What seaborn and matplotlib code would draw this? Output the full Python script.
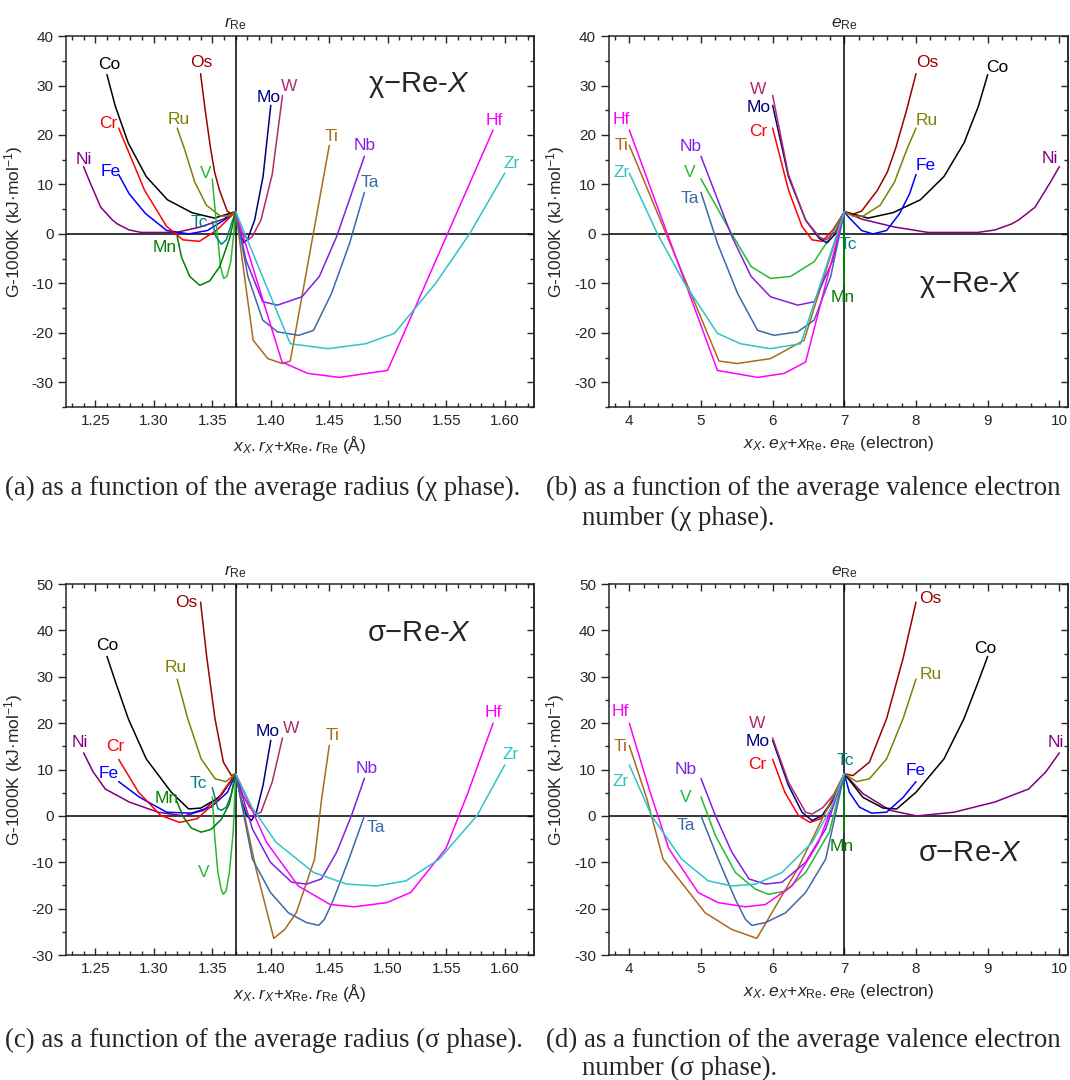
import matplotlib
matplotlib.use("Agg")
import matplotlib.pyplot as plt
import matplotlib.transforms as mtransforms
from matplotlib.ticker import MultipleLocator
import pandas as pd
import seaborn as sns

# Re-X systems: pure element data
elements = ["Ni", "Co", "Fe", "Cr", "Os", "Ru", "V", "Tc", "Mn", "Mo", "W", "Ti", "Nb", "Ta", "Hf", "Zr"]
radii = [1.24, 1.26, 1.27, 1.27, 1.34, 1.32, 1.35, 1.35, 1.32, 1.40, 1.41, 1.45, 1.48, 1.48, 1.59, 1.60]
valence = [10, 9, 8, 6, 8, 8, 5, 7, 7, 6, 6, 4, 5, 5, 4, 4]
R_RE = 1.37
E_RE = 7

# chi phase: fraction of X, G-1000K (kJ/mol)
ni_chi_c = [0, 0.08, 0.233, 0.39, 0.51, 0.62, 0.70, 0.777, 0.81, 0.887, 0.963, 1]
ni_chi_g = [4.5, 3.0, 1.4, 0.3, 0.3, 0.3, 0.8, 2.0, 2.8, 5.4, 10.8, 13.6]
co_chi_c = [0, 0.165, 0.34, 0.53, 0.695, 0.835, 0.935, 1]
co_chi_g = [4.5, 3.2, 4.3, 6.9, 11.6, 18.4, 25.8, 32.2]
fe_chi_c = [0, 0.06, 0.24, 0.40, 0.59, 0.77, 0.91, 1]
fe_chi_g = [4.5, 3.4, 0.7, 0.0, 0.7, 4.1, 8.1, 12.0]
cr_chi_c = [0, 0.16, 0.31, 0.45, 0.59, 0.78, 1]
cr_chi_g = [4.5, 0.8, -1.5, -1.2, 1.5, 8.9, 21.4]
os_chi_c = [0, 0.12, 0.24, 0.46, 0.6, 0.72, 0.87, 1]
os_chi_g = [4.5, 4.0, 4.6, 8.8, 12.5, 17.5, 25.1, 32.4]
ru_chi_c = [0, 0.12, 0.26, 0.5, 0.7, 0.87, 1]
ru_chi_g = [4.5, 3.6, 3.6, 5.8, 10.5, 17.0, 21.4]
v_chi_c = [0, 0.095, 0.21, 0.375, 0.515, 0.65, 0.785, 1]
v_chi_g = [4.5, -0.5, -5.6, -8.6, -9.0, -6.6, 0.0, 11.1]
tc_chi_c = [0, 0.2, 0.4, 0.61, 0.85, 1]
tc_chi_g = [4.5, 1.8, -1.2, -2.1, -0.5, 2.5]
mn_chi_c = [0, 0.102, 0.272, 0.444, 0.614, 0.784, 0.926, 1]
mn_chi_g = [4.5, -0.8, -6.6, -9.5, -10.4, -8.6, -4.7, -0.5]
mo_chi_c = [0, 0.12, 0.24, 0.35, 0.54, 0.78, 1]
mo_chi_g = [4.5, 0.1, -1.8, -0.9, 2.8, 11.6, 26.0]
w_chi_c = [0, 0.12, 0.26, 0.35, 0.54, 0.78, 1]
w_chi_g = [4.5, 0.5, -1.2, -0.6, 2.8, 12.0, 28.0]
ti_chi_c = [0, 0.187, 0.343, 0.497, 0.583, 1]
ti_chi_g = [4.5, -21.5, -25.2, -26.2, -25.7, 17.9]
nb_chi_c = [0, 0.08, 0.21, 0.325, 0.515, 0.65, 0.785, 1]
nb_chi_g = [4.5, -5.3, -13.7, -14.4, -12.7, -8.6, -0.5, 15.7]
ta_chi_c = [0, 0.095, 0.21, 0.325, 0.49, 0.605, 0.745, 0.885, 1]
ta_chi_g = [4.5, -8.6, -17.4, -19.8, -20.5, -19.5, -12.0, -1.9, 8.4]
hf_chi_c = [0, 0.18, 0.28, 0.403, 0.59, 1]
hf_chi_g = [4.5, -25.9, -28.2, -29.0, -27.6, 21.0]
zr_chi_c = [0, 0.203, 0.343, 0.483, 0.59, 0.743, 0.87, 1]
zr_chi_g = [4.5, -22.2, -23.2, -22.2, -20.1, -10.0, 0.1, 12.3]

# sigma phase: fraction of X, G-1000K (kJ/mol)
ni_sig_c = [0, 0.087, 0.213, 0.337, 0.51, 0.7, 0.857, 0.937, 1]
ni_sig_g = [9.1, 4.8, 1.2, 0.0, 0.8, 3.0, 5.8, 9.5, 13.6]
co_sig_c = [0, 0.13, 0.27, 0.365, 0.5, 0.695, 0.835, 0.935, 1]
co_sig_g = [9.1, 4.0, 1.7, 1.5, 5.1, 12.3, 21.0, 29.0, 34.4]
fe_sig_c = [0, 0.07, 0.21, 0.38, 0.59, 0.82, 1]
fe_sig_g = [9.1, 5.1, 1.9, 0.6, 0.8, 4.0, 7.4]
cr_sig_c = [0, 0.17, 0.33, 0.48, 0.64, 0.83, 1]
cr_sig_g = [9.1, 3.0, -0.6, -1.4, 0.1, 5.1, 12.2]
os_sig_c = [0, 0.12, 0.35, 0.59, 0.82, 1]
os_sig_g = [9.1, 8.7, 11.6, 21.0, 34.0, 46.1]
ru_sig_c = [0, 0.17, 0.35, 0.59, 0.82, 1]
ru_sig_g = [9.1, 7.4, 8.0, 12.3, 21.0, 29.5]
v_sig_c = [0, 0.105, 0.27, 0.41, 0.53, 0.62, 0.76, 0.9, 1]
v_sig_g = [9.1, -3.5, -12.2, -16.2, -16.9, -15.8, -12.2, -4.2, 4.1]
tc_sig_c = [0, 0.185, 0.4, 0.615, 0.76, 1]
tc_sig_g = [9.1, 4.7, 1.9, 1.2, 1.6, 6.1]
mn_sig_c = [0, 0.108, 0.25, 0.42, 0.59, 0.76, 0.9, 1]
mn_sig_g = [9.1, 2.6, -0.8, -2.9, -3.5, -2.6, -0.1, 3.0]
mo_sig_c = [0, 0.15, 0.31, 0.45, 0.59, 0.78, 1]
mo_sig_g = [9.1, 3.8, 0.1, -1.0, 0.8, 6.6, 16.3]
w_sig_c = [0, 0.15, 0.3, 0.45, 0.54, 0.78, 1]
w_sig_g = [9.1, 4.6, 1.8, 0.4, 0.8, 7.3, 16.8]
ti_sig_c = [0, 0.217, 0.407, 0.523, 0.647, 0.843, 0.917, 1]
ti_sig_g = [9.1, -11.4, -26.4, -24.5, -20.9, -9.3, 3.5, 15.2]
nb_sig_c = [0, 0.13, 0.27, 0.435, 0.55, 0.665, 0.785, 0.9, 1]
nb_sig_g = [9.1, -2.8, -10.0, -14.3, -14.7, -13.6, -7.8, 0.1, 8.1]
ta_sig_c = [0, 0.13, 0.27, 0.41, 0.55, 0.645, 0.69, 0.76, 0.88, 1]
ta_sig_g = [9.1, -9.3, -16.5, -20.9, -23.0, -23.6, -22.3, -18.0, -9.3, 0.0]
hf_sig_c = [0, 0.12, 0.243, 0.367, 0.46, 0.587, 0.68, 0.817, 0.903, 1]
hf_sig_g = [9.1, -5.7, -15.1, -19.1, -19.6, -18.7, -16.5, -7.0, 5.1, 20.0]
zr_sig_c = [0, 0.063, 0.15, 0.29, 0.413, 0.523, 0.633, 0.757, 0.897, 1]
zr_sig_g = [9.1, 1.6, -5.7, -12.2, -14.7, -15.1, -14.0, -9.3, 0.1, 11.0]

chi_curves = {
    "Ni": (ni_chi_c, ni_chi_g), "Co": (co_chi_c, co_chi_g), "Fe": (fe_chi_c, fe_chi_g),
    "Cr": (cr_chi_c, cr_chi_g), "Os": (os_chi_c, os_chi_g), "Ru": (ru_chi_c, ru_chi_g),
    "V": (v_chi_c, v_chi_g), "Tc": (tc_chi_c, tc_chi_g), "Mn": (mn_chi_c, mn_chi_g),
    "Mo": (mo_chi_c, mo_chi_g), "W": (w_chi_c, w_chi_g), "Ti": (ti_chi_c, ti_chi_g),
    "Nb": (nb_chi_c, nb_chi_g), "Ta": (ta_chi_c, ta_chi_g), "Hf": (hf_chi_c, hf_chi_g),
    "Zr": (zr_chi_c, zr_chi_g),
}
sigma_curves = {
    "Ni": (ni_sig_c, ni_sig_g), "Co": (co_sig_c, co_sig_g), "Fe": (fe_sig_c, fe_sig_g),
    "Cr": (cr_sig_c, cr_sig_g), "Os": (os_sig_c, os_sig_g), "Ru": (ru_sig_c, ru_sig_g),
    "V": (v_sig_c, v_sig_g), "Tc": (tc_sig_c, tc_sig_g), "Mn": (mn_sig_c, mn_sig_g),
    "Mo": (mo_sig_c, mo_sig_g), "W": (w_sig_c, w_sig_g), "Ti": (ti_sig_c, ti_sig_g),
    "Nb": (nb_sig_c, nb_sig_g), "Ta": (ta_sig_c, ta_sig_g), "Hf": (hf_sig_c, hf_sig_g),
    "Zr": (zr_sig_c, zr_sig_g),
}

colors = {
    "Ni": "#800080", "Co": "#000000", "Fe": "#0000ff", "Cr": "#ff0000", "Os": "#990000",
    "Ru": "#808000", "V": "#22bb33", "Tc": "#008080", "Mn": "#008000", "Mo": "#000080",
    "W": "#b02a6e", "Ti": "#a86a1c", "Nb": "#8020e0", "Ta": "#3a6aa8", "Hf": "#ff00ff",
    "Zr": "#2ec4c4",
}

# where the element names sit in each panel (data coords)
labels_a = {"Co": (1.262, 34.3), "Os": (1.341, 34.7), "Cr": (1.261, 22.4), "Ru": (1.321, 23.2),
            "Ni": (1.240, 15.1), "Fe": (1.263, 12.7), "V": (1.344, 12.3), "Tc": (1.339, 2.4),
            "Mn": (1.309, -2.8), "Mo": (1.398, 27.6), "W": (1.416, 29.9), "Ti": (1.452, 19.7),
            "Nb": (1.480, 17.9), "Ta": (1.485, 10.3), "Hf": (1.591, 23.0), "Zr": (1.606, 14.2)}
labels_b = {"W": (5.80, 29.1), "Mo": (5.80, 25.5), "Cr": (5.80, 20.7), "Hf": (3.89, 23.2),
            "Ti": (3.89, 17.8), "Zr": (3.89, 12.5), "Nb": (4.85, 17.6), "V": (4.85, 12.5),
            "Ta": (4.85, 7.1), "Os": (8.15, 34.7), "Co": (9.14, 33.6), "Ru": (8.15, 23.0),
            "Fe": (8.13, 13.9), "Ni": (9.87, 15.2), "Tc": (7.06, -2.2), "Mn": (6.98, -12.8)}
labels_c = {"Os": (1.328, 46.0), "Co": (1.260, 36.7), "Ru": (1.319, 32.0), "Ni": (1.237, 15.8),
            "Cr": (1.267, 15.0), "Fe": (1.2615, 9.1), "Tc": (1.338, 7.0), "Mn": (1.311, 3.7),
            "V": (1.343, -12.1), "Mo": (1.397, 18.3), "W": (1.417, 18.8), "Ti": (1.4526, 17.4),
            "Nb": (1.4823, 10.2), "Ta": (1.4898, -2.5), "Hf": (1.590, 22.2), "Zr": (1.605, 13.3)}
labels_d = {"Os": (8.2, 46.9), "Co": (8.97, 36.0), "Ru": (8.2, 30.4), "Ni": (9.95, 15.8),
            "Fe": (7.99, 9.8), "Tc": (7.02, 12.0), "Mn": (6.97, -6.6), "W": (5.79, 19.9),
            "Mo": (5.79, 16.1), "Cr": (5.79, 11.0), "Hf": (3.88, 22.6), "Ti": (3.88, 14.9),
            "Zr": (3.88, 7.4), "Nb": (4.79, 10.0), "V": (4.79, 4.0), "Ta": (4.79, -2.1)}

# long table, x positions from composition-weighted radius / electron count
rows = []
for i, el in enumerate(elements):
    for phase, curves in (("chi", chi_curves), ("sigma", sigma_curves)):
        fracs, gvals = curves[el]
        for f, g in zip(fracs, gvals):
            rows.append({"element": el, "phase": phase, "G": g,
                         "radius": f * radii[i] + (1 - f) * R_RE,
                         "electrons": f * valence[i] + (1 - f) * E_RE})
df = pd.DataFrame(rows)

sns.set_style("ticks")
plt.rcParams["font.family"] = ["Liberation Sans", "DejaVu Sans"]
plt.rcParams["mathtext.fontset"] = "custom"
plt.rcParams["mathtext.rm"] = "Liberation Sans"
plt.rcParams["mathtext.it"] = "Liberation Sans:italic"
plt.rcParams["mathtext.bf"] = "Liberation Sans:bold"
plt.rcParams["axes.unicode_minus"] = False  # origin-style hyphen minus on ticks

fig = plt.figure(figsize=(10.7, 10.8), dpi=100)


def draw_panel(rect, phase, xcol, xlim, ylim, xmaj, xmin, labels, top_label, xlabel, phase_text, phase_pos, ref_x):
    ax = fig.add_axes(rect)
    sub = df[df["phase"] == phase]
    ax.axhline(0, color="black", lw=1.1, zorder=1)
    ax.axvline(ref_x, color="black", lw=1.1, zorder=1)
    sns.lineplot(data=sub, x=xcol, y="G", hue="element", hue_order=elements, palette=colors,
                 estimator=None, sort=False, legend=False, lw=1.1, ax=ax, zorder=2)
    for el, (lx, ly) in labels.items():
        ax.text(lx, ly, el, color=colors[el], fontsize=12.5, ha="center", va="center")
    ax.text(phase_pos[0], phase_pos[1], phase_text, fontsize=21, ha="center", va="center")

    ax.set_xlim(*xlim)
    ax.set_ylim(*ylim)
    ax.xaxis.set_major_locator(MultipleLocator(xmaj))
    ax.xaxis.set_minor_locator(MultipleLocator(xmin))
    ax.yaxis.set_major_locator(MultipleLocator(10))
    ax.yaxis.set_minor_locator(MultipleLocator(5))
    ax.tick_params(axis="x", which="both", direction="in", top=True, labelsize=11, pad=5)
    ax.tick_params(axis="x", which="major", length=5, width=1)
    ax.tick_params(axis="x", which="minor", length=2.8, width=1)
    ax.tick_params(axis="y", which="both", direction="out", labelsize=11)
    ax.tick_params(axis="y", which="major", length=5.5, width=1)
    ax.tick_params(axis="y", which="minor", length=3, width=1)
    if xmaj < 1:
        ax.xaxis.set_major_formatter(plt.FormatStrFormatter("%.2f"))
    # right-hand ticks point inwards
    sec = ax.secondary_yaxis("right")
    sec.yaxis.set_major_locator(MultipleLocator(10))
    sec.yaxis.set_minor_locator(MultipleLocator(5))
    sec.tick_params(which="both", direction="in", labelright=False, width=1)
    sec.tick_params(which="major", length=5)
    sec.tick_params(which="minor", length=3)
    for sp in list(ax.spines.values()) + list(sec.spines.values()):
        sp.set_linewidth(1.1)

    ax.set_xlabel(xlabel, fontsize=12.5, labelpad=4)
    ax.set_ylabel("G-1000K (kJ·mol$^{-1}$)", fontsize=12.5, labelpad=5)
    trans = mtransforms.blended_transform_factory(ax.transData, ax.transAxes)
    ax.text(ref_x, 1.012, top_label, transform=trans, fontsize=12.5, ha="center", va="bottom")
    return ax


xlab_r = r"$x_X{.}r_X$+$x_{\mathrm{Re}}{.}r_{\mathrm{Re}}$ (Å)"
xlab_e = r"$x_X{.}e_X$+$x_{\mathrm{Re}}{.}e_{\mathrm{Re}}$ (electron)"

draw_panel([0.0617, 0.6231, 0.4374, 0.3435], "chi", "radius", (1.225, 1.625), (-35, 40), 0.05, 0.01,
           labels_a, r"$r_{\mathrm{Re}}$", xlab_r, "χ−Re-$X$", (1.5265, 30.1), R_RE)
draw_panel([0.5687, 0.6231, 0.4294, 0.3435], "chi", "electrons", (3.71, 10.12), (-35, 40), 1, 0.2,
           labels_b, r"$e_{\mathrm{Re}}$", xlab_e, "χ−Re-$X$", (8.75, -10.3), E_RE)
draw_panel([0.0617, 0.1157, 0.4374, 0.3435], "sigma", "radius", (1.225, 1.625), (-30, 50), 0.05, 0.01,
           labels_c, r"$r_{\mathrm{Re}}$", xlab_r, "σ−Re-$X$", (1.527, 39.5), R_RE)
draw_panel([0.5687, 0.1157, 0.4294, 0.3435], "sigma", "electrons", (3.71, 10.12), (-30, 50), 1, 0.2,
           labels_d, r"$e_{\mathrm{Re}}$", xlab_e, "σ−Re-$X$", (8.76, -7.9), E_RE)

# sub-figure captions (sized so the long right-hand lines still fit)
cap = dict(fontsize=19.4, family=["Liberation Serif", "DejaVu Serif"], ha="left", va="center")
fig.text(5 / 1070, 1 - 488 / 1080, "(a) as a function of the average radius (χ phase).", **cap)
fig.text(546 / 1070, 1 - 488 / 1080, "(b) as a function of the average valence electron", **cap)
fig.text(582 / 1070, 1 - 518 / 1080, "number (χ phase).", **cap)
fig.text(5 / 1070, 1 - 1040 / 1080, "(c) as a function of the average radius (σ phase).", **cap)
fig.text(546 / 1070, 1 - 1040 / 1080, "(d) as a function of the average valence electron", **cap)
fig.text(582 / 1070, 1 - 1068 / 1080, "number (σ phase).", **cap)

fig.savefig("out.png", dpi=100)
